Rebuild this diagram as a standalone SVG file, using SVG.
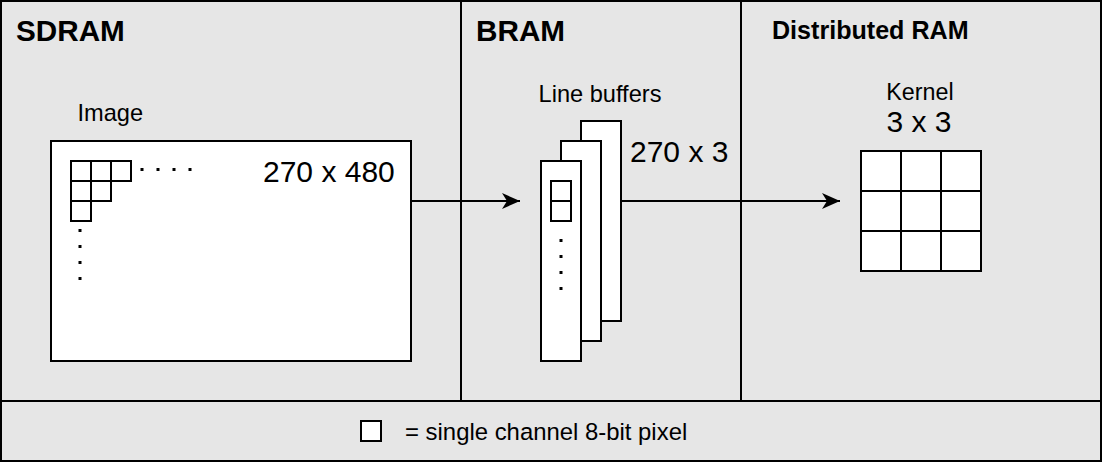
<svg xmlns="http://www.w3.org/2000/svg" width="1102" height="462" viewBox="0 0 1102 462">
<style>
.box{fill:#fff;stroke:#000;stroke-width:2}
.ln{fill:none;stroke:#000;stroke-width:2}
.t{font-family:"Liberation Sans",Arial,sans-serif;fill:#000}
.lab{font-size:23.6px}
.num{font-size:30px}
.ttl{font-size:29.7px;font-weight:bold}
.dot{fill:#000}
</style>
<defs>
<marker id="ah" markerWidth="18" markerHeight="18" refX="18" refY="9" orient="auto" markerUnits="userSpaceOnUse" viewBox="0 0 18 18">
<path d="M0,1 L18,9 L0,17 L5,9 Z" fill="#000"/>
</marker>
</defs>
<g id="frame">
<rect x="1" y="1" width="1100" height="460" fill="#e6e6e6" stroke="#000" stroke-width="2"/>
<line x1="461" y1="1" x2="461" y2="401" class="ln"/>
<line x1="741" y1="1" x2="741" y2="401" class="ln"/>
<line x1="1" y1="401" x2="1101" y2="401" class="ln"/>
<text x="16" y="41" class="t ttl">SDRAM</text>
<text x="476" y="41" class="t ttl">BRAM</text>
<text x="772" y="38.5" class="t" font-size="25.1" font-weight="bold">Distributed RAM</text>
</g>
<g id="image">
<text x="77.5" y="120.5" class="t lab">Image</text>
<rect x="51" y="141" width="360" height="220" class="box"/>
<rect x="71" y="161" width="20" height="20" class="box"/>
<rect x="91" y="161" width="20" height="20" class="box"/>
<rect x="111" y="161" width="20" height="20" class="box"/>
<rect x="71" y="181" width="20" height="20" class="box"/>
<rect x="91" y="181" width="20" height="20" class="box"/>
<rect x="71" y="201" width="20" height="20" class="box"/>
<rect x="140.5" y="168" width="3" height="3" class="dot"/>
<rect x="156.5" y="168" width="3" height="3" class="dot"/>
<rect x="172.5" y="168" width="3" height="3" class="dot"/>
<rect x="188.5" y="168" width="3" height="3" class="dot"/>
<rect x="78.5" y="229" width="3" height="3" class="dot"/>
<rect x="78.5" y="245" width="3" height="3" class="dot"/>
<rect x="78.5" y="261" width="3" height="3" class="dot"/>
<rect x="78.5" y="277" width="3" height="3" class="dot"/>
<text x="263" y="182" class="t num">270 x 480</text>
</g>
<g id="linebuffers">
<text x="600" y="101.5" class="t lab" text-anchor="middle">Line buffers</text>
<rect x="581" y="121" width="40" height="200" class="box"/>
<rect x="561" y="141" width="40" height="200" class="box"/>
<rect x="541" y="161" width="40" height="200" class="box"/>
<rect x="551" y="181" width="20" height="20" class="box"/>
<rect x="551" y="201" width="20" height="20" class="box"/>
<rect x="559.5" y="239" width="3" height="3" class="dot"/>
<rect x="559.5" y="255" width="3" height="3" class="dot"/>
<rect x="559.5" y="271" width="3" height="3" class="dot"/>
<rect x="559.5" y="287" width="3" height="3" class="dot"/>
<text x="630" y="162" class="t num">270 x 3</text>
</g>
<g id="kernel">
<text x="920" y="100" class="t" font-size="23.3" text-anchor="middle">Kernel</text>
<text x="919" y="132" class="t num" text-anchor="middle">3 x 3</text>
<rect x="861" y="151" width="120" height="120" class="box"/>
<line x1="901" y1="151" x2="901" y2="271" class="ln"/>
<line x1="941" y1="151" x2="941" y2="271" class="ln"/>
<line x1="861" y1="191" x2="981" y2="191" class="ln"/>
<line x1="861" y1="231" x2="981" y2="231" class="ln"/>
</g>
<g id="connectors">
<line x1="411" y1="201" x2="520" y2="201" class="ln" marker-end="url(#ah)"/>
<line x1="621" y1="201" x2="840" y2="201" class="ln" marker-end="url(#ah)"/>
</g>
<g id="legend">
<rect x="361" y="421" width="20" height="20" class="box"/>
<text x="405" y="440" class="t" font-size="23.9">= single channel 8-bit pixel</text>
</g>
</svg>
